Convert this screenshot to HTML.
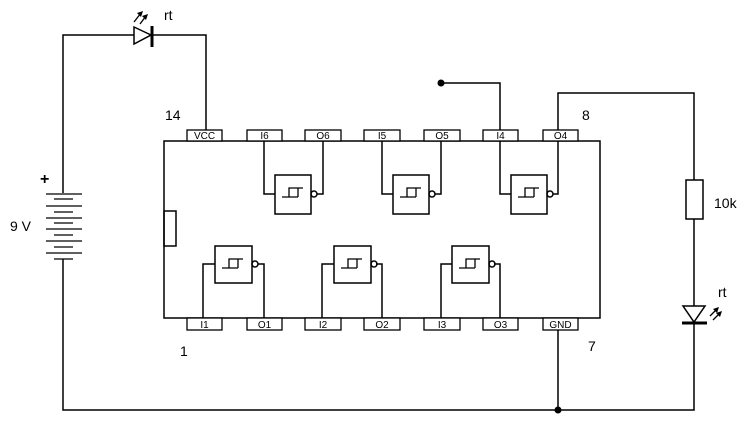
<!DOCTYPE html>
<html><head><style>html,body{margin:0;padding:0;background:#fff}svg{display:block}</style></head>
<body>
<svg width="755" height="427" viewBox="0 0 755 427" xmlns="http://www.w3.org/2000/svg" font-family="Liberation Sans, sans-serif">
<defs>
<g id="hys" fill="none" stroke="#000" stroke-width="1.3">
<path d="M7 22 H23 M14 22 V13 H28 M23 13 V22"/>
</g>
</defs>
<g fill="none" stroke="#000" stroke-width="1.5">
<!-- chip -->
<rect x="164" y="141" width="436" height="177"/>
<rect x="164" y="211" width="12" height="35"/>
<!-- top wires -->
<path d="M63 193 V35 H134 M152 35 H206 V130"/>
<path d="M63 259 V410 H694 V324"/>
<path d="M694 306 V219 M694 180 V93 H558 V130"/>
<path d="M558 330 V410"/>
<path d="M500 130 V83 H441"/>
<!-- gate wiring top -->
<path d="M264 141 V194 H275 M317 194 H323 V141"/>
<path d="M382 141 V194 H393 M435 194 H441 V141"/>
<path d="M500 141 V194 H511 M553 194 H558 V141"/>
<!-- gate wiring bottom -->
<path d="M203 318 V264 H215 M258 264 H264 V318"/>
<path d="M322 318 V264 H334 M376 264 H382 V318"/>
<path d="M441 318 V264 H452 M494 264 H500 V318"/>
<!-- gates -->
<rect x="275" y="175" width="36" height="39"/>
<rect x="393" y="175" width="36" height="39"/>
<rect x="511" y="175" width="36" height="39"/>
<rect x="215" y="246" width="37" height="37"/>
<rect x="334" y="246" width="37" height="37"/>
<rect x="452" y="246" width="37" height="37"/>
<circle cx="314" cy="194" r="3"/>
<circle cx="432" cy="194" r="3"/>
<circle cx="550" cy="194" r="3"/>
<circle cx="255" cy="264" r="3"/>
<circle cx="374" cy="264" r="3"/>
<circle cx="492" cy="264" r="3"/>
<!-- resistor -->
<rect x="686" y="180" width="17" height="39"/>
<!-- diode top -->
<path d="M134 27 L151 35 L134 44 Z"/>
<!-- LED right -->
<path d="M683 306 H705 L694 322 Z"/>
</g>
<g stroke="#000" stroke-width="3">
<path d="M152 26 V47"/>
<path d="M682 323 H707"/>
</g>
<g fill="none" stroke="#000" stroke-width="1.3">
<!-- battery -->
<path d="M46 194 H82 M54 199 H73 M46 206 H82 M54 212 H73 M46 218 H82 M54 223 H73 M46 229 H82 M54 235 H73 M46 241 H82 M54 247 H73 M46 253 H82 M54 259 H73"/>
<!-- light arrows -->
<path d="M134 22 L141 13 M140 24 L146 16"/>
<path d="M710 316 L717 309 M713 320 L720 313"/>
</g>
<g fill="#000">
<path d="M143 11 L137 13 L141 17 Z"/><path d="M148 14 L142 16 L146 20 Z"/>
<path d="M719 307 L713 309 L717 313 Z"/><path d="M722 311 L716 313 L720 317 Z"/>
<circle cx="441" cy="83" r="3.5"/>
<circle cx="558" cy="410" r="3.5"/>
</g>
<!-- hysteresis symbols -->
<use href="#hys" x="275" y="175"/><use href="#hys" x="393" y="175"/><use href="#hys" x="511" y="175"/>
<use href="#hys" x="215" y="246"/><use href="#hys" x="334" y="246"/><use href="#hys" x="452" y="246"/>
<!-- pins -->
<g fill="#fff" stroke="#000" stroke-width="1.3">
<rect x="187" y="130" width="35" height="11"/><rect x="247" y="130" width="35" height="11"/>
<rect x="305" y="130" width="36" height="11"/><rect x="364" y="130" width="36" height="11"/>
<rect x="424" y="130" width="36" height="11"/><rect x="483" y="130" width="35" height="11"/>
<rect x="543" y="130" width="35" height="11"/>
<rect x="187" y="318" width="35" height="12"/><rect x="247" y="318" width="35" height="12"/>
<rect x="305" y="318" width="36" height="12"/><rect x="364" y="318" width="36" height="12"/>
<rect x="424" y="318" width="36" height="12"/><rect x="483" y="318" width="35" height="12"/>
<rect x="543" y="318" width="35" height="12"/>
</g>
<g font-size="10" text-anchor="middle" fill="#000">
<text x="204.5" y="139">VCC</text><text x="264.5" y="139">I6</text><text x="323" y="139">O6</text>
<text x="382" y="139">I5</text><text x="442" y="139">O5</text><text x="500.5" y="139">I4</text>
<text x="560.5" y="139">O4</text>
<text x="204.5" y="328">I1</text><text x="264.5" y="328">O1</text><text x="323" y="328">I2</text>
<text x="382" y="328">O2</text><text x="442" y="328">I3</text><text x="500.5" y="328">O3</text>
<text x="560.5" y="328">GND</text>
</g>
<g font-size="14" fill="#000">
<text x="165" y="120">14</text>
<text x="582" y="120">8</text>
<text x="180" y="356">1</text>
<text x="588" y="351">7</text>
<text x="714" y="208">10k</text>
<text x="164" y="20">rt</text>
<text x="718" y="297">rt</text>
<text x="10" y="231">9 V</text>
<text x="40" y="184" font-size="16" font-weight="bold">+</text>
</g>
</svg>
</body></html>
